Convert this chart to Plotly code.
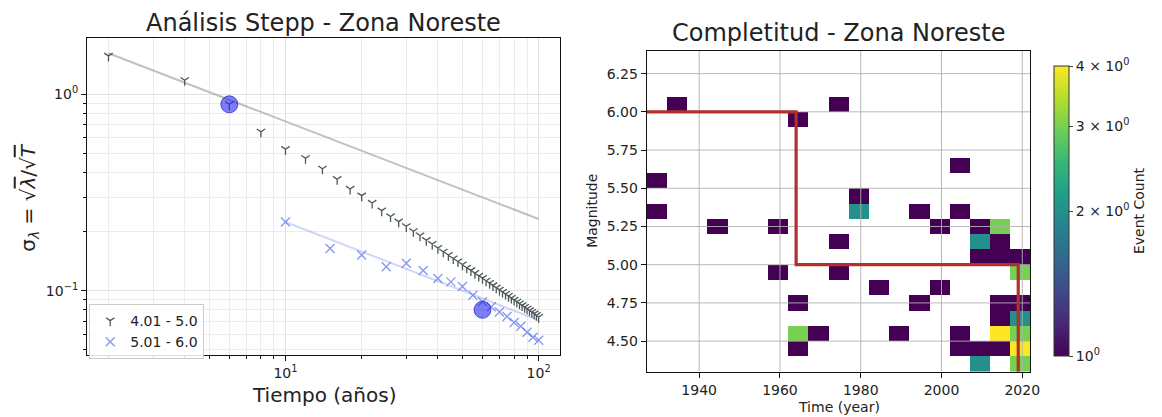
import numpy as np
import plotly.graph_objects as go

# ---------------- Left panel: Stepp analysis ----------------
t_band1 = [2, 4, 6, 8, 10, 12, 14, 16, 18, 20, 22, 24, 26, 28, 30, 32, 34, 36, 38, 40,
           42, 44, 46, 48, 50, 52, 54, 56, 58, 60, 62, 64, 66, 68, 70, 72, 74, 76, 78, 80,
           82, 84, 86, 88, 90, 92, 94, 96, 98, 100]
sigma_band1 = [1.57, 1.18, 0.89, 0.645, 0.526, 0.473, 0.418, 0.370, 0.330, 0.305,
               0.280, 0.256, 0.239, 0.225, 0.213, 0.201, 0.191, 0.181, 0.173, 0.165,
               0.158, 0.152, 0.146, 0.141, 0.136, 0.131, 0.127, 0.123, 0.119, 0.116,
               0.1125, 0.1095, 0.1065, 0.1037, 0.1011, 0.0986, 0.0963, 0.094, 0.0919, 0.0898,
               0.0879, 0.0861, 0.0843, 0.0826, 0.081, 0.0794, 0.0779, 0.0765, 0.0751, 0.0735]

t_band2 = [10, 15, 20, 25, 30, 35, 40, 45, 50, 55, 60, 65, 70, 75, 80, 85, 90, 95, 100]
sigma_band2 = [0.224, 0.164, 0.152, 0.1325, 0.138, 0.127, 0.1155, 0.111, 0.105, 0.095,
               0.088, 0.083, 0.078, 0.074, 0.069, 0.066, 0.0615, 0.058, 0.056]

fit1_t = [2, 100]
fit1_sigma = [1.62, 0.232]
fit2_t = [10, 100]
fit2_sigma = [0.224, 0.0708]

comp_t = [6, 60]
comp_sigma = [0.89, 0.080]

band_labels = ["4.01 - 5.0", "5.01 - 6.0"]

# ---------------- Right panel: completeness histogram ----------------
year_start, year_width, n_year_bins = 1927, 5, 19
mag_start, mag_width, n_mag_bins = 4.3, 0.1, 21

# cells: lower year of bin, lower magnitude of bin, event count
cell_year = [1927, 1927, 1932, 1942, 1957, 1957, 1962, 1962, 1962, 1962, 1967, 1972, 1972, 1972,
             1977, 1977, 1982, 1987, 1992, 1992, 1997, 1997, 2002, 2002, 2002, 2002,
             2007, 2007, 2007, 2007, 2007, 2012, 2012, 2012, 2012, 2012, 2012, 2012,
             2017, 2017, 2017, 2017, 2017, 2017, 2017]
cell_mag = [5.5, 5.3, 6.0, 5.2, 5.2, 4.9, 5.9, 4.7, 4.5, 4.4, 4.5, 6.0, 5.1, 4.9,
            5.4, 5.3, 4.8, 4.5, 5.3, 4.7, 5.2, 4.8, 5.6, 5.3, 4.5, 4.4,
            5.2, 5.1, 5.0, 4.4, 4.3, 5.2, 5.1, 5.0, 4.7, 4.6, 4.5, 4.4,
            5.0, 4.9, 4.7, 4.6, 4.5, 4.4, 4.3]
cell_count = [1, 1, 1, 1, 1, 1, 1, 1, 3, 1, 1, 1, 1, 1,
              1, 2, 1, 1, 1, 1, 1, 1, 1, 1, 1, 1,
              1, 2, 1, 1, 2, 3, 1, 1, 1, 1, 4, 1,
              1, 3, 1, 2, 3, 4, 3]

comp_line_years = [1927, 1964, 1964, 2019, 2019]
comp_line_mags = [6.0, 6.0, 5.0, 5.0, 4.3]

right_xticks = [1940, 1960, 1980, 2000, 2020]
right_yticks = [4.5, 4.75, 5.0, 5.25, 5.5, 5.75, 6.0, 6.25]
cbar_ticks = [1, 2, 3, 4]
cbar_ticktext = ["10<sup>0</sup>", "2 × 10<sup>0</sup>", "3 × 10<sup>0</sup>", "4 × 10<sup>0</sup>"]

# ---------------- build ----------------
W, H = 1162, 417
FONT = "DejaVu Sans"

year_edges = [year_start + year_width * k for k in range(n_year_bins + 1)]
mag_edges = [round(mag_start + mag_width * k, 2) for k in range(n_mag_bins + 1)]
z = [[None] * n_year_bins for _ in range(n_mag_bins)]
for yr, mg, c in zip(cell_year, cell_mag, cell_count):
    i = int(round((yr - year_start) / year_width))
    j = int(round((mg - mag_start) / mag_width))
    z[j][i] = float(np.log10(c))

fig = go.Figure()

# left panel traces
fig.add_trace(go.Scatter(x=fit1_t, y=fit1_sigma, mode="lines", showlegend=False,
                         line=dict(color="rgba(160,160,160,0.65)", width=2), xaxis="x", yaxis="y"))
fig.add_trace(go.Scatter(x=fit2_t, y=fit2_sigma, mode="lines", showlegend=False,
                         line=dict(color="rgba(120,140,235,0.35)", width=2), xaxis="x", yaxis="y"))
fig.add_trace(go.Scatter(x=t_band1, y=sigma_band1, mode="markers", name=band_labels[0],
                         marker=dict(symbol="y-down", size=7,
                                     line=dict(color="#4a5856", width=1.3)),
                         xaxis="x", yaxis="y"))
fig.add_trace(go.Scatter(x=t_band2, y=sigma_band2, mode="markers", name=band_labels[1],
                         marker=dict(symbol="x-thin", size=9,
                                     line=dict(color="rgba(95,120,235,0.75)", width=1.4)),
                         xaxis="x", yaxis="y"))
fig.add_trace(go.Scatter(x=comp_t, y=comp_sigma, mode="markers", showlegend=False,
                         marker=dict(symbol="circle", size=17, color="rgba(40,40,240,0.6)",
                                     line=dict(color="rgba(30,30,200,0.7)", width=1)),
                         xaxis="x", yaxis="y"))

# right panel traces
fig.add_trace(go.Heatmap(x=year_edges, y=mag_edges, z=z, colorscale="Viridis",
                         zmin=0, zmax=float(np.log10(4)), xaxis="x2", yaxis="y2",
                         hoverongaps=False,
                         colorbar=dict(
                             x=1063.3 / W, xanchor="left", xpad=0, ypad=0,
                             y=1 - 211 / H, yanchor="middle",
                             len=290 / H, lenmode="fraction",
                             thickness=15, thicknessmode="pixels",
                             outlinewidth=1, outlinecolor="#333",
                             tickmode="array", tickvals=[float(np.log10(v)) for v in cbar_ticks],
                             ticktext=cbar_ticktext, ticks="outside", ticklen=4,
                             tickfont=dict(size=14, family=FONT, color="#222"),
                             title=dict(text="Event Count", side="right",
                                        font=dict(size=14, family=FONT, color="#222")))))

# grid lines on top of heatmap
gx, gy = [], []
for v in right_xticks:
    gx += [v, v, None]
    gy += [mag_start, mag_edges[-1], None]
for v in right_yticks:
    gx += [year_edges[0], year_edges[-1], None]
    gy += [v, v, None]
fig.add_trace(go.Scatter(x=gx, y=gy, mode="lines", showlegend=False, hoverinfo="skip",
                         line=dict(color="rgba(176,176,176,0.9)", width=1), xaxis="x2", yaxis="y2"))

fig.add_trace(go.Scatter(x=comp_line_years, y=comp_line_mags, mode="lines", showlegend=False,
                         line=dict(color="#b0302c", width=3.2), xaxis="x2", yaxis="y2"))

# axes geometry (pixels)
L1, R1, T1, B1 = 87.7, 565.3, 38, 355
L2, R2, T2, B2 = 652.3, 1039.3, 50.7, 371.7

x_minor = [2, 3, 4, 5, 6, 7, 8, 9, 20, 30, 40, 50, 60, 70, 80, 90]
y_minor = [0.05, 0.06, 0.07, 0.08, 0.09, 0.2, 0.3, 0.4, 0.5, 0.6, 0.7, 0.8, 0.9]

axis_common = dict(showline=True, mirror=True, linecolor="#111", linewidth=1,
                   ticks="outside", tickcolor="#111", zeroline=False,
                   tickfont=dict(size=14, family=FONT, color="#222"))

fig.update_layout(
    width=W, height=H, autosize=False,
    margin=dict(l=0, r=0, t=0, b=0),
    paper_bgcolor="white", plot_bgcolor="white",
    font=dict(family=FONT, color="#222"),
    showlegend=True,
    legend=dict(x=90 / W, y=1 - 304 / H, xanchor="left", yanchor="top",
                bgcolor="rgba(255,255,255,0.85)", bordercolor="#cccccc", borderwidth=1,
                font=dict(size=14, family=FONT, color="#222"), tracegroupgap=0,
                itemwidth=30),
    xaxis=dict(axis_common, type="log", range=[0.216, 2.086], domain=[L1 / W, R1 / W],
               anchor="y", tickmode="array", tickvals=[10, 100],
               ticktext=["10<sup>1</sup>", "10<sup>2</sup>"], ticklen=5,
               showgrid=True, gridcolor="#e2e2e2", gridwidth=1,
               minor=dict(tickmode="array", tickvals=x_minor, ticks="outside", ticklen=3,
                          tickcolor="#111", showgrid=True, gridcolor="#ececec")),
    yaxis=dict(axis_common, type="log", range=[-1.327, 0.287], domain=[1 - B1 / H, 1 - T1 / H],
               anchor="x", tickmode="array", tickvals=[0.1, 1],
               ticktext=["10<sup>−1</sup>", "10<sup>0</sup>"], ticklen=5,
               showgrid=True, gridcolor="#e2e2e2", gridwidth=1,
               minor=dict(tickmode="array", tickvals=y_minor, ticks="outside", ticklen=3,
                          tickcolor="#111", showgrid=True, gridcolor="#ececec")),
    xaxis2=dict(axis_common, range=[year_edges[0], year_edges[-1]], domain=[L2 / W, R2 / W],
                anchor="y2", tickmode="array", tickvals=right_xticks, ticklen=5,
                showgrid=False),
    yaxis2=dict(axis_common, range=[mag_start, mag_edges[-1]], domain=[1 - B2 / H, 1 - T2 / H],
                anchor="x2", tickmode="array", tickvals=right_yticks, tickformat=".2f",
                ticklen=5, showgrid=False),
)

ann = [
    dict(text="Análisis Stepp - Zona Noreste", x=(L1 + R1) / 2 / W, y=1 - 23 / H,
         font=dict(size=24)),
    dict(text="Completitud - Zona Noreste", x=(L2 + R2) / 2 / W, y=1 - 33 / H,
         font=dict(size=24)),
    dict(text="Tiempo (años)", x=(L1 + R1) / 2 / W, y=1 - 395 / H, font=dict(size=20)),
    dict(text="σ<sub><i>λ</i></sub> = √<span style='text-decoration:overline'><i>λ</i></span>"
              "/√<span style='text-decoration:overline'><i>T</i></span>",
         x=29 / W, y=1 - 197 / H, textangle=-90, font=dict(size=20)),
    dict(text="Time (year)", x=(L2 + R2) / 2 / W, y=1 - 407 / H, font=dict(size=14)),
    dict(text="Magnitude", x=597 / W, y=1 - 211 / H, textangle=-90, font=dict(size=14)),
]
for a in ann:
    a.update(xref="paper", yref="paper", showarrow=False, xanchor="center", yanchor="middle")
    a["font"].update(family=FONT, color="#222")
fig.update_layout(annotations=ann)

fig.write_html(
    "out.html",
    config={"displayModeBar": False},
    post_script="document.body.style.margin='0';document.body.style.overflow='hidden';",
)
